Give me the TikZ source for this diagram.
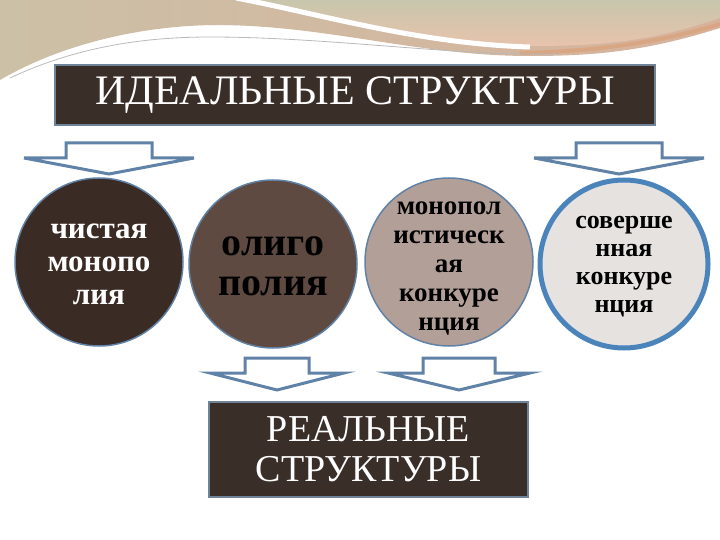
\documentclass[tikz,border=0pt]{standalone}
\usepackage{fontspec}
\setmainfont{Liberation Serif}

\definecolor{boxbrown}{HTML}{3A2E29}
\definecolor{boxedge}{HTML}{6E8397}
\definecolor{arrowblue}{HTML}{5F82A6}
\definecolor{ringblue}{HTML}{4A84BA}
\definecolor{circA}{HTML}{3B2B25}
\definecolor{circB}{HTML}{5E4A41}
\definecolor{circC}{HTML}{B29F97}
\definecolor{circD}{HTML}{E5E2E0}
\definecolor{swtan}{HTML}{D7B29B}
\definecolor{swgreen}{HTML}{C7C6AC}
\definecolor{swpeach}{HTML}{E8C3AC}
\definecolor{sworange}{HTML}{D9A684}

\tikzset{
	titlebox/.style={draw=boxedge, line width=2pt, fill=boxbrown, text=white,
		inner sep=0pt, align=center},
	market/.style={circle, draw=arrowblue, line width=1.5pt, minimum size=168pt,
		inner sep=0pt},
	circtext/.style={inner sep=0pt, align=center},
	downarr/.style={draw=arrowblue, line width=3pt, fill=white, line join=miter},
}

\begin{document}
\begin{tikzpicture}[x=1pt, y=-1pt]

	\useasboundingbox (0,0) rectangle (720,540);

	% Decorative swoosh at the top
	\shade[left color=swgreen!70!swtan, right color=swtan]
		(0,0) -- (720,0) -- (720,28) .. controls (650,50) and (600,56) .. (530,56)
		.. controls (420,56) and (330,26) .. (220,25)
		.. controls (140,25) and (60,45) .. (0,80) -- cycle;
	\shade[top color=swgreen, bottom color=swpeach]
		(240,0) -- (720,0) -- (720,18) .. controls (650,42) and (600,46) .. (530,46)
		.. controls (420,44) and (320,14) .. (240,0) -- cycle;
	\draw[sworange, line width=4pt] (520,53) .. controls (620,51) and (680,36) .. (720,24);
	\draw[white, line width=5pt] (236,-2) .. controls (320,14) and (420,44) .. (530,47);
	\draw[gray!55, line width=0.8pt] (10,78) .. controls (80,45) and (150,37) .. (210,37)
		.. controls (330,37) and (450,56) .. (560,54);

	% Boxes
	\node[titlebox, minimum width=600pt, minimum height=60pt,
		font=\fontsize{42}{44}\selectfont] (ideal) at (355,95) {ИДЕАЛЬНЫЕ СТРУКТУРЫ};
	\node[titlebox, minimum width=319pt, minimum height=95pt,
		font=\fontsize{38}{40}\selectfont] (real) at (368.5,449.5) {РЕАЛЬНЫЕ\\СТРУКТУРЫ};

	% Market circles
	\node[market, fill=circA] (chist) at (99,262) {};
	\node[market, fill=circB] (oligo) at (273,264) {};
	\node[market, fill=circC] (monkon) at (449,262) {};
	\node[market, fill=circD, draw=ringblue, line width=5pt] (sovkon) at (624,264) {};

	% Texts in the circles
	\node[circtext, text=white, font=\bfseries\fontsize{31}{33}\selectfont]
		(chistT) at ([yshift=-2pt]chist.center) {чистая\\монопо\\лия};
	\node[circtext, text=black, font=\bfseries\fontsize{40}{40}\selectfont]
		(oligoT) at ([yshift=-2pt]oligo.center) {олиго\\полия};
	\node[circtext, text=black, font=\bfseries\fontsize{27}{29}\selectfont]
		(monkonT) at ([yshift=-6pt]monkon.center) {монопол\\истическ\\ая\\конкуре\\нция};
	\node[circtext, text=black, font=\bfseries\fontsize{26}{28}\selectfont]
		(sovkonT) at ([yshift=-3pt]sovkon.center) {соверше\\нная\\конкуре\\нция};

	% Block arrows
	\foreach \cx/\ty/\sw/\ww/\wy/\tip in {109/143/43/85/158/174, 619/143/43/85/158/174,
			277/358/32/67/373/390, 459/358/36/71/373/390}
		\draw[downarr] ({\cx-\sw},\ty) -- ({\cx+\sw},\ty) -- ({\cx+\sw},\wy) -- ({\cx+\ww},\wy)
			-- (\cx,\tip) -- ({\cx-\ww},\wy) -- ({\cx-\sw},\wy) -- cycle;

\end{tikzpicture}
\end{document}
